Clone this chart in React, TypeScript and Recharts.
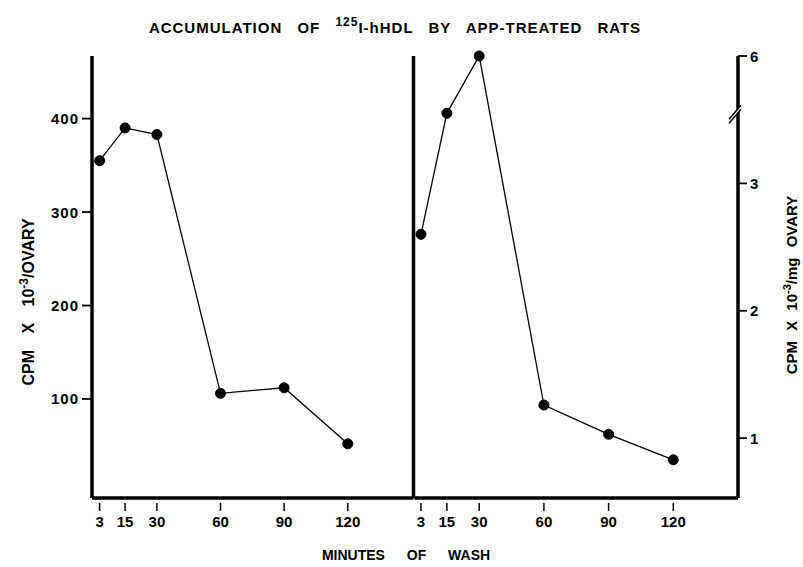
import React from 'react';
import { LineChart, Line, XAxis, YAxis, ReferenceLine } from 'recharts';

const minutes = [3, 15, 30, 60, 90, 120];
const cpmPerOvary = [355, 390, 383, 106, 112, 52];
const cpmPerMg = [2.6, 3.75, 6, 1.26, 1.03, 0.83];
const xTicks = [3, 15, 30, 60, 90, 120];
const leftTicks = [100, 200, 300, 400];
const rightTickValues = [1, 2, 3, 6];

// broken right axis: values above 3.5 are compressed
const BREAK = 3.5;
const COMPRESS = 0.2;
const toDisplay = (v: number) => (v <= BREAK ? v : BREAK + (v - BREAK) * COMPRESS);
const BREAK_MARK = 3.55;

const leftData = minutes.map((m, i) => ({ min: m, v: cpmPerOvary[i] }));
const rightData = minutes.map((m, i) => ({ min: m, v: toDisplay(cpmPerMg[i]) }));

const FONT = '"Liberation Sans", Arial, sans-serif';

const XTick = (props: any) => {
  const { x, y, payload } = props;
  return (
    <g>
      <line x1={x} x2={x} y1={y + 5} y2={y + 13} stroke="#000" strokeWidth={1.5} />
      <text x={x} y={y + 29} textAnchor="middle" fontFamily={FONT} fontWeight="bold" fontSize={15} fill="#000">
        {payload.value}
      </text>
    </g>
  );
};

const LeftYTick = (props: any) => {
  const { x, y, payload } = props;
  return (
    <g>
      <line x1={x - 10} x2={x} y1={y} y2={y} stroke="#000" strokeWidth={1.8} />
      <text x={x - 13} y={y + 5.5} textAnchor="end" fontFamily={FONT} fontWeight="bold" fontSize={15} letterSpacing={1} fill="#000">
        {payload.value}
      </text>
    </g>
  );
};

const RightYTick = (props: any) => {
  const { x, y, payload } = props;
  if (Math.abs(payload.value - BREAK_MARK) < 1e-6) {
    return (
      <g>
        <polygon points={`${x - 9},${y + 6} ${x + 3},${y - 8} ${x + 3},${y - 4} ${x - 9},${y + 10}`} fill="#fff" />
        <line x1={x - 9} y1={y + 6} x2={x + 3} y2={y - 8} stroke="#000" strokeWidth={1.5} />
        <line x1={x - 9} y1={y + 10} x2={x + 3} y2={y - 4} stroke="#000" strokeWidth={1.5} />
      </g>
    );
  }
  const label = payload.value >= 4 - 1e-6 ? rightTickValues[3] : payload.value;
  return (
    <g>
      <line x1={x} x2={x + 9} y1={y} y2={y} stroke="#000" strokeWidth={1.8} />
      <text x={x + 12} y={y + 5.5} textAnchor="start" fontFamily={FONT} fontWeight="bold" fontSize={15} fill="#000">
        {label}
      </text>
    </g>
  );
};

export default function App() {
  return (
    <div style={{ position: 'absolute', left: 0, top: 0, width: 803, height: 567, background: '#fff' }}>
      <div style={{ position: 'absolute', left: 0, top: 0 }}>
        <LineChart width={420} height={567} data={leftData} margin={{ top: 56, right: 6.5, bottom: 29, left: 32 }}>
          <XAxis
            dataKey="min"
            type="number"
            domain={[-0.6, 151]}
            ticks={xTicks}
            height={40}
            tickSize={0}
            tickMargin={0}
            tickLine={false}
            axisLine={{ stroke: '#000', strokeWidth: 3.5 }}
            tick={<XTick />}
            interval={0}
          />
          <YAxis
            type="number"
            domain={[-6, 467]}
            ticks={leftTicks}
            width={60}
            tickSize={0}
            tickMargin={0}
            tickLine={false}
            axisLine={{ stroke: '#000', strokeWidth: 3.5 }}
            tick={<LeftYTick />}
            interval={0}
          />
          <ReferenceLine x={151} stroke="#000" strokeWidth={3.5} />
          <Line
            dataKey="v"
            type="linear"
            stroke="#000"
            strokeWidth={1.3}
            dot={{ r: 5, fill: '#000', stroke: '#000', strokeWidth: 1 }}
            isAnimationActive={false}
          />
        </LineChart>
      </div>
      <div style={{ position: 'absolute', left: 380, top: 0 }}>
        <LineChart width={420} height={567} data={rightData} margin={{ top: 56, right: 12, bottom: 29, left: 34.5 }}>
          <XAxis
            dataKey="min"
            type="number"
            domain={[0, 150]}
            ticks={xTicks}
            height={40}
            tickSize={0}
            tickMargin={0}
            tickLine={false}
            axisLine={{ stroke: '#000', strokeWidth: 3.5 }}
            tick={<XTick />}
            interval={0}
          />
          <YAxis
            orientation="right"
            type="number"
            domain={[0.53, 4.0]}
            ticks={[1, 2, 3, BREAK_MARK, 4]}
            width={50}
            tickSize={0}
            tickMargin={0}
            tickLine={false}
            axisLine={{ stroke: '#000', strokeWidth: 3.5 }}
            tick={<RightYTick />}
            interval={0}
          />
          <Line
            dataKey="v"
            type="linear"
            stroke="#000"
            strokeWidth={1.3}
            dot={{ r: 5, fill: '#000', stroke: '#000', strokeWidth: 1 }}
            isAnimationActive={false}
          />
        </LineChart>
      </div>
      <svg width={803} height={567} style={{ position: 'absolute', left: 0, top: 0, pointerEvents: 'none' }}>
        <text x={395} y={33} textAnchor="middle" fontFamily={FONT} fontWeight="bold" fontSize={15} fill="#000" wordSpacing={10} letterSpacing={1}>
          ACCUMULATION OF <tspan dy={-7} fontSize={12}>125</tspan>
          <tspan dy={7}>I-hHDL BY APP-TREATED RATS</tspan>
        </text>
        <text x={406} y={560} textAnchor="middle" fontFamily={FONT} fontWeight="bold" fontSize={14} fill="#000" wordSpacing={18}>
          MINUTES OF WASH
        </text>
        <text transform="translate(34,302) rotate(-90)" textAnchor="middle" fontFamily={FONT} fontWeight="bold" fontSize={16} fill="#000" wordSpacing={12}>
          CPM X 10<tspan dy={-6} fontSize={12}>-3</tspan>
          <tspan dy={6}>/OVARY</tspan>
        </text>
        <text transform="translate(797,285) rotate(-90)" textAnchor="middle" fontFamily={FONT} fontWeight="bold" fontSize={15} fill="#000" wordSpacing={6}>
          CPM X 10<tspan dy={-6} fontSize={11}>-3</tspan>
          <tspan dy={6}>/mg OVARY</tspan>
        </text>
      </svg>
    </div>
  );
}
